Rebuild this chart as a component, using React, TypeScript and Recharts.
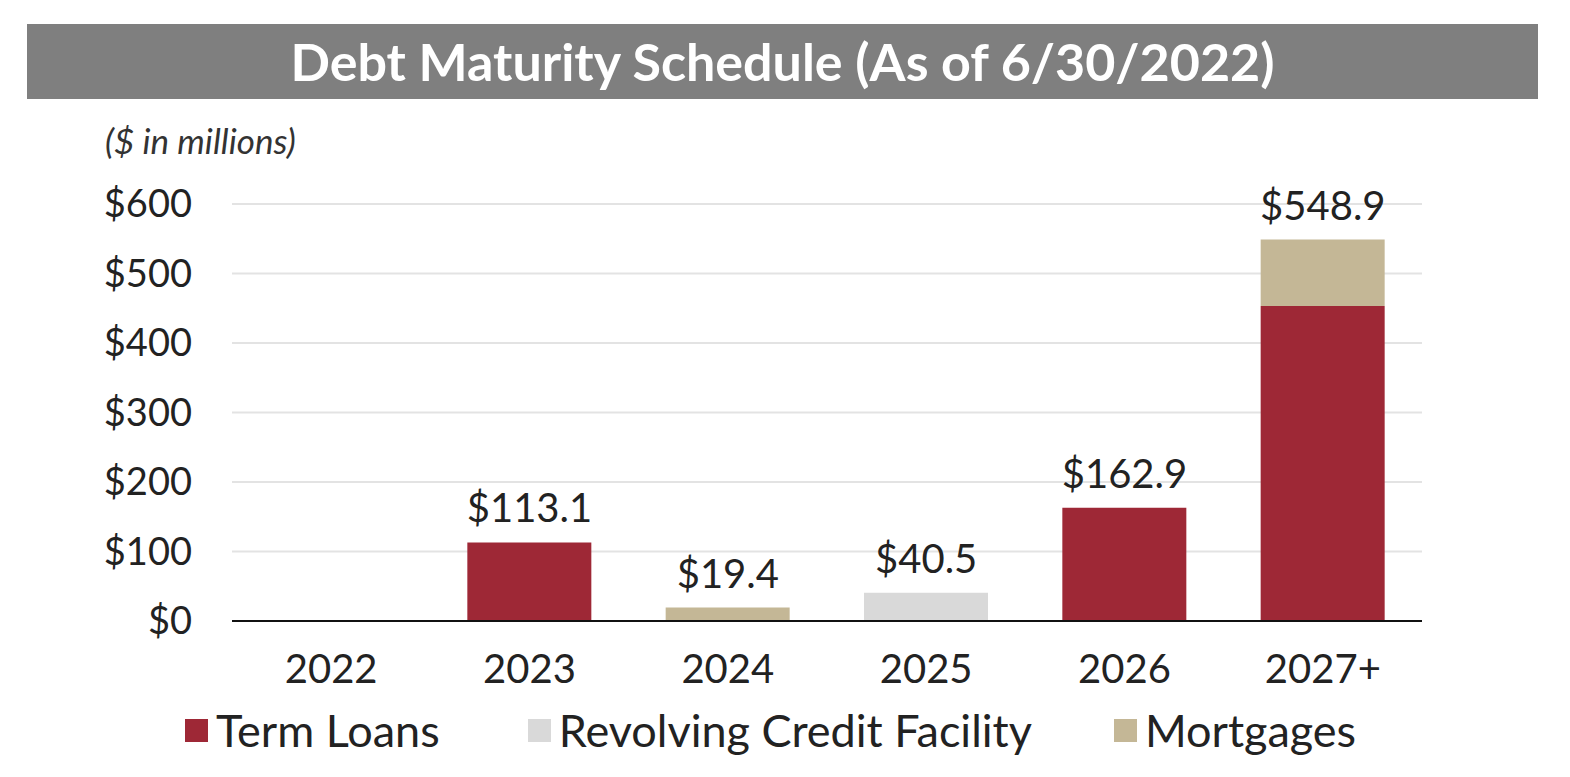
import React from 'react';
import { ComposedChart, Bar, Line, XAxis, YAxis, CartesianGrid, LabelList } from 'recharts';

const categories = ['2022', '2023', '2024', '2025', '2026', '2027+'];
const termLoans = [0, 113.1, 0, 0, 162.9, 453.2];
const revolver = [0, 0, 0, 40.5, 0, 0];
const mortgages = [0, 0, 19.4, 0, 0, 95.7];
const yTicks = [0, 100, 200, 300, 400, 500, 600];

const series = [
    { key: 'term', name: 'Term Loans', color: '#9E2836' },
    { key: 'revolver', name: 'Revolving Credit Facility', color: '#D9D9D9' },
    { key: 'mortgages', name: 'Mortgages', color: '#C4B796' },
];

const data = categories.map((c, i) => ({
    name: c,
    term: termLoans[i],
    revolver: revolver[i],
    mortgages: mortgages[i],
    total: termLoans[i] + revolver[i] + mortgages[i],
}));

const FONT = 'Lato, "Liberation Sans", sans-serif';

// total above each stack, drawn off an invisible line through the totals
const TotalLabel = (props: any) => {
    const { x, y, value } = props;
    if (!value) return null;
    return (
        <text x={x} y={y - 20} textAnchor="middle" fontSize={40} fill="#222" fontFamily={FONT}>
            {`$${Number(value).toFixed(1)}`}
        </text>
    );
};

export default function App() {
    return (
        <div style={{ position: 'absolute', left: 0, top: 0, width: 1570, height: 777, background: '#fff', fontFamily: FONT }}>
            <div
                style={{
                    position: 'absolute', left: 27, top: 24, width: 1511, height: 75, background: '#7F7F7F',
                    color: '#fff', fontWeight: 700, fontSize: 52, textAlign: 'center', lineHeight: '75px',
                }}
            >
                Debt Maturity Schedule (As of 6/30/2022)
            </div>
            <div style={{ position: 'absolute', left: 105, top: 119, fontSize: 35, fontStyle: 'italic', color: '#333' }}>
                ($ in millions)
            </div>
            <div style={{ position: 'absolute', left: 0, top: 0 }}>
                <ComposedChart
                    width={1570}
                    height={777}
                    data={data}
                    barSize={124}
                    margin={{ top: 204, right: 148, left: 82, bottom: 0 }}
                >
                    <CartesianGrid vertical={false} stroke="#E3E3E3" strokeWidth={2} />
                    <XAxis
                        dataKey="name"
                        axisLine={{ stroke: '#111', strokeWidth: 2 }}
                        tickLine={false}
                        tickSize={0}
                        tickMargin={34}
                        height={156}
                        tick={{ fontSize: 40, fill: '#222', fontFamily: FONT }}
                    />
                    <YAxis
                        width={150}
                        domain={[0, 600]}
                        ticks={yTicks}
                        axisLine={false}
                        tickLine={false}
                        tickSize={0}
                        tickMargin={40}
                        tickFormatter={(v: number) => `$${v}`}
                        tick={{ fontSize: 38, fill: '#222', fontFamily: FONT }}
                    />
                    {series.map((s) => (
                        <Bar key={s.key} dataKey={s.key} name={s.name} stackId="a" fill={s.color} isAnimationActive={false} />
                    ))}
                    <Line
                        dataKey="total"
                        stroke="none"
                        dot={false}
                        activeDot={false}
                        legendType="none"
                        isAnimationActive={false}
                    >
                        <LabelList dataKey="total" content={TotalLabel} />
                    </Line>
                </ComposedChart>
            </div>
            <div
                style={{
                    position: 'absolute', top: 704, left: 185, display: 'flex', alignItems: 'center',
                    fontSize: 45, color: '#222', lineHeight: '52px',
                }}
            >
                {series.map((s, i) => (
                    <div key={s.key} style={{ display: 'flex', alignItems: 'center', marginRight: i === 0 ? 88 : 82 }}>
                        <span style={{ width: 23, height: 23, background: s.color, marginRight: 8, display: 'inline-block' }} />
                        <span>{s.name}</span>
                    </div>
                ))}
            </div>
        </div>
    );
}
